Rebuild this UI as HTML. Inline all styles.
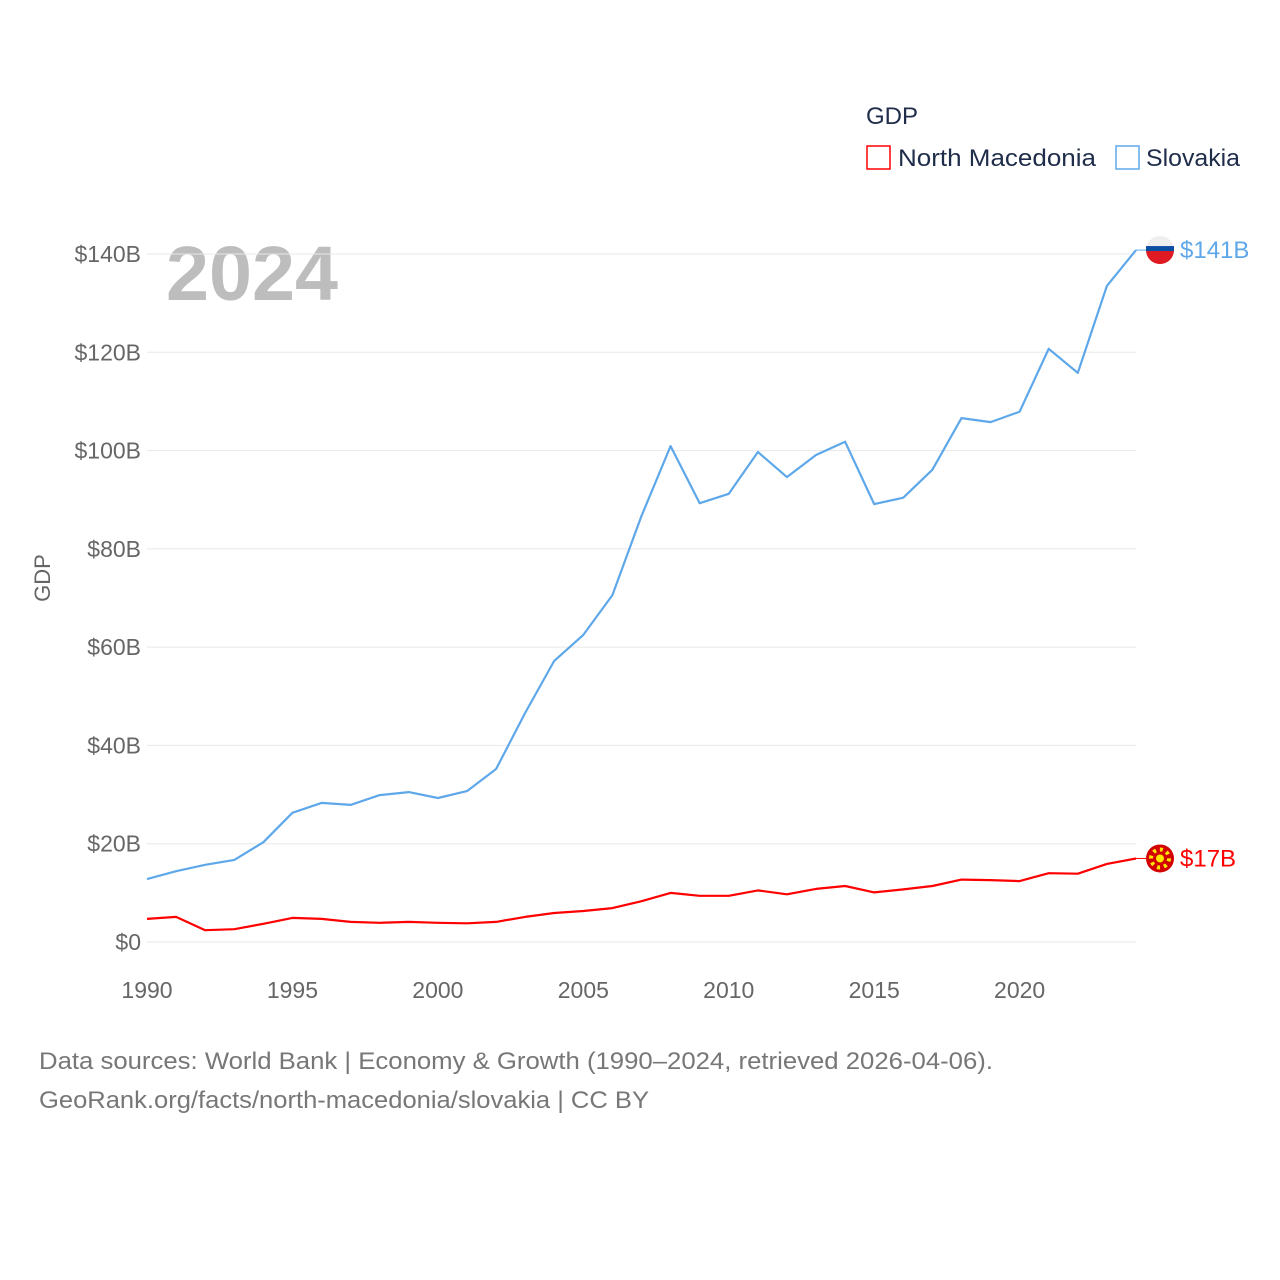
<!DOCTYPE html>
<html><head><meta charset="utf-8">
<style>
html,body{margin:0;padding:0;background:#fff;}
svg{display:block;font-family:"Liberation Sans",sans-serif;}
</style></head>
<body>
<svg id="chart" width="1280" height="1280" viewBox="0 0 1280 1280">
  <g>
    <text x="866" y="124" font-size="24" fill="#1f2d4a">GDP</text>
    <rect x="867" y="146" width="23" height="23" fill="none" stroke="#ff0000" stroke-width="1.5"/>
    <text x="898" y="166" font-size="24" fill="#1f2d4a" textLength="198" lengthAdjust="spacingAndGlyphs">North Macedonia</text>
    <rect x="1116" y="146" width="23" height="23" fill="none" stroke="#5ea8ea" stroke-width="1.5"/>
    <text x="1146" y="166" font-size="24" fill="#1f2d4a" textLength="94" lengthAdjust="spacingAndGlyphs">Slovakia</text>
  </g>
  <text x="166" y="300" font-size="77" font-weight="bold" fill="#bdbdbd" textLength="172" lengthAdjust="spacingAndGlyphs">2024</text>
  <text transform="translate(50,578) rotate(-90)" text-anchor="middle" font-size="22" fill="#666">GDP</text>
  <g id="grid"></g>
  <g id="xticks"></g>
  <g id="series"></g>
  <g>
    <text x="39" y="1069" font-size="24" fill="#777" textLength="954" lengthAdjust="spacingAndGlyphs">Data sources: World Bank | Economy &amp; Growth (1990–2024, retrieved 2026-04-06).</text>
    <text x="39" y="1108" font-size="24" fill="#777" textLength="610" lengthAdjust="spacingAndGlyphs">GeoRank.org/facts/north-macedonia/slovakia | CC BY</text>
  </g>
</svg>
<script>
const years = [1990,1991,1992,1993,1994,1995,1996,1997,1998,1999,2000,2001,2002,2003,2004,2005,2006,2007,2008,2009,2010,2011,2012,2013,2014,2015,2016,2017,2018,2019,2020,2021,2022,2023,2024];
const slovakia = [12.8,14.4,15.7,16.7,20.3,26.3,28.3,27.9,29.9,30.5,29.3,30.7,35.2,46.6,57.2,62.5,70.6,86.7,100.9,89.3,91.2,99.7,94.6,99.1,101.8,89.1,90.4,96.1,106.6,105.8,107.9,120.7,115.8,133.5,140.8];
const northMacedonia = [4.7,5.1,2.4,2.6,3.7,4.9,4.7,4.1,3.9,4.1,3.9,3.8,4.1,5.1,5.9,6.3,6.9,8.3,10.0,9.4,9.4,10.5,9.7,10.8,11.4,10.1,10.7,11.4,12.7,12.6,12.4,14.0,13.9,15.9,17.0];
const yTicks = [0,20,40,60,80,100,120,140];
const xTicks = [1990,1995,2000,2005,2010,2015,2020];

const NS = "http://www.w3.org/2000/svg";
const x0=147, x1=1136, y0=942, y140=254;
function xs(yr){return x0+(yr-1990)*(x1-x0)/(2024-1990);}
function ys(v){return y0-v*(y0-y140)/140;}
function mk(tag,attrs,parent){const e=document.createElementNS(NS,tag);for(const k in attrs)e.setAttribute(k,attrs[k]);parent.appendChild(e);return e;}

const grid=document.getElementById('grid');
yTicks.forEach(v=>{
  const l=mk('line',{x1:x0,x2:x1,y1:ys(v),y2:ys(v),stroke:'#e8e8e8','stroke-width':1},grid);
  
  
  const t=mk('text',{x:141,y:ys(v)+8,'text-anchor':'end','font-size':23,fill:'#666'},grid);
  t.textContent='$'+v+(v?'B':'');
  
  
});
const xt=document.getElementById('xticks');
xTicks.forEach(yr=>{
  const t=mk('text',{x:xs(yr),y:998,'text-anchor':'middle','font-size':23,fill:'#666'},xt);
  t.textContent=yr;
  
  
});

const ser=document.getElementById('series');
function drawSeries(vals,color,name,label){
  const d=vals.map((v,i)=>(i?'L':'M')+xs(years[i]).toFixed(1)+','+ys(v).toFixed(1)).join(' ');
  const p=mk('path',{d:d,fill:'none',stroke:color,'stroke-width':2.2,'stroke-linejoin':'round'},ser);
  
  
  const last=vals[vals.length-1], lx=xs(years[years.length-1]), ly=ys(last);
  mk('line',{x1:lx,x2:1150,y1:ly,y2:ly,stroke:color,'stroke-width':1},ser);
  const c=mk('circle',{cx:1160,cy:ly,r:14,fill:name==='slovakia'?'#eee':'#d20000'},ser);
  
  
  if(name==='slovakia'){
    mk('path',{d:`M1146,${ly} A14,14 0 0,0 1174,${ly} Z`,fill:'#e01a22'},ser);
    mk('rect',{x:1146,y:ly-4,width:28,height:5,fill:'#0b4ea2'},ser);
  } else {
    mk('circle',{cx:1160,cy:ly,r:9,fill:'none',stroke:'#ffe600','stroke-width':4,'stroke-dasharray':'3 4'},ser);
    mk('circle',{cx:1160,cy:ly,r:4,fill:'#ffe600'},ser);
  }
  const t=mk('text',{x:1180,y:ly+8,'font-size':24,fill:color},ser);
  t.textContent=label;
  
  
}
drawSeries(slovakia,'#5ea8ea','slovakia','$'+Math.round(slovakia[slovakia.length-1])+'B');
drawSeries(northMacedonia,'#ff0000','north-macedonia','$'+Math.round(northMacedonia[northMacedonia.length-1])+'B');
</script>
</body></html>
